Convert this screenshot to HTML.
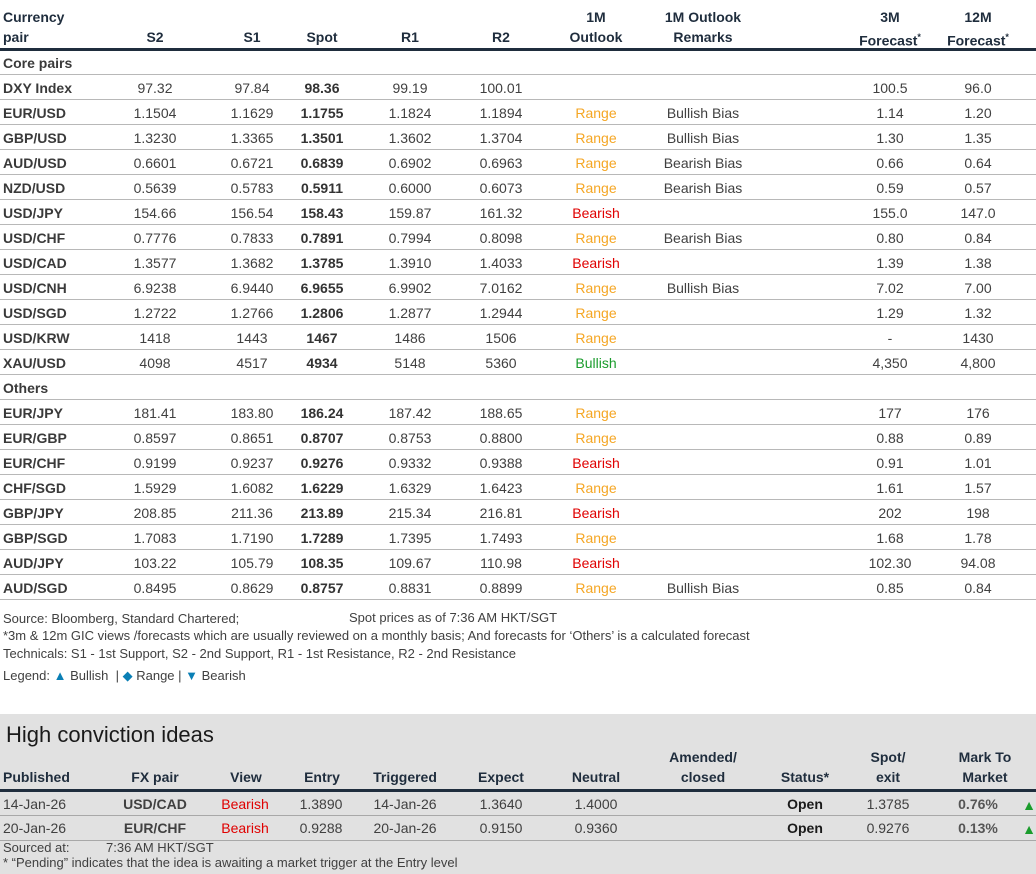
<!DOCTYPE html><html><head><meta charset="utf-8"><style>
*{margin:0;padding:0;box-sizing:border-box}
body{width:1036px;height:874px;background:#fff;font-family:"Liberation Sans",Arial,sans-serif;color:#404040;font-size:14px;position:relative;overflow:hidden}
.r{position:absolute;left:0;width:1036px;height:25px;border-bottom:1px solid #b8b8b8}
.r span{position:absolute;top:5px;width:110px;text-align:center;white-space:nowrap}
.r .p{left:3px;text-align:left;font-weight:bold;color:#3a3a3a;width:120px}
.a{left:100px}.b{left:197px}.c{left:267px;font-weight:bold;color:#333}.d{left:355px}.e{left:446px}.f{left:541px}.g{left:648px}.h{left:835px}.i{left:923px}
.R{color:#f5a623}.B{color:#e00000}.G{color:#1a9c2c}
.hd{position:absolute;font-weight:bold;color:#1f2d3d;text-align:center;line-height:20px;width:120px}
.ft{position:absolute;left:3px;font-size:13px;color:#404040;white-space:nowrap}
#hc{position:absolute;left:0;top:714px;width:1036px;height:160px;background:#e1e1e1}
.k{position:absolute;left:0;width:1036px;height:25px;border-bottom:1px solid #a8a8a8}
.k span{position:absolute;top:4px;width:110px;text-align:center;white-space:nowrap}
</style></head><body>
<div class="hd" style="left:3px;top:7px;text-align:left">Currency<br>pair</div>
<div class="hd" style="left:95px;top:27px">S2</div>
<div class="hd" style="left:192px;top:27px">S1</div>
<div class="hd" style="left:262px;top:27px">Spot</div>
<div class="hd" style="left:350px;top:27px">R1</div>
<div class="hd" style="left:441px;top:27px">R2</div>
<div class="hd" style="left:536px;top:7px">1M<br>Outlook</div>
<div class="hd" style="left:643px;top:7px">1M Outlook<br>Remarks</div>
<div class="hd" style="left:830px;top:7px">3M<br>Forecast<sup style="font-size:9px">*</sup></div>
<div class="hd" style="left:918px;top:7px">12M<br>Forecast<sup style="font-size:9px">*</sup></div>
<div style="position:absolute;left:0;top:48px;width:1036px;height:3px;background:#1f2d3d"></div>
<div class="r" style="top:51px;height:24px"><span class="p" style="top:4px">Core pairs</span></div>
<div class="r" style="top:75px"><span class="p">DXY Index</span><span class="a">97.32</span><span class="b">97.84</span><span class="c">98.36</span><span class="d">99.19</span><span class="e">100.01</span><span class="h">100.5</span><span class="i">96.0</span></div>
<div class="r" style="top:100px"><span class="p">EUR/USD</span><span class="a">1.1504</span><span class="b">1.1629</span><span class="c">1.1755</span><span class="d">1.1824</span><span class="e">1.1894</span><span class="f R">Range</span><span class="g">Bullish Bias</span><span class="h">1.14</span><span class="i">1.20</span></div>
<div class="r" style="top:125px"><span class="p">GBP/USD</span><span class="a">1.3230</span><span class="b">1.3365</span><span class="c">1.3501</span><span class="d">1.3602</span><span class="e">1.3704</span><span class="f R">Range</span><span class="g">Bullish Bias</span><span class="h">1.30</span><span class="i">1.35</span></div>
<div class="r" style="top:150px"><span class="p">AUD/USD</span><span class="a">0.6601</span><span class="b">0.6721</span><span class="c">0.6839</span><span class="d">0.6902</span><span class="e">0.6963</span><span class="f R">Range</span><span class="g">Bearish Bias</span><span class="h">0.66</span><span class="i">0.64</span></div>
<div class="r" style="top:175px"><span class="p">NZD/USD</span><span class="a">0.5639</span><span class="b">0.5783</span><span class="c">0.5911</span><span class="d">0.6000</span><span class="e">0.6073</span><span class="f R">Range</span><span class="g">Bearish Bias</span><span class="h">0.59</span><span class="i">0.57</span></div>
<div class="r" style="top:200px"><span class="p">USD/JPY</span><span class="a">154.66</span><span class="b">156.54</span><span class="c">158.43</span><span class="d">159.87</span><span class="e">161.32</span><span class="f B">Bearish</span><span class="h">155.0</span><span class="i">147.0</span></div>
<div class="r" style="top:225px"><span class="p">USD/CHF</span><span class="a">0.7776</span><span class="b">0.7833</span><span class="c">0.7891</span><span class="d">0.7994</span><span class="e">0.8098</span><span class="f R">Range</span><span class="g">Bearish Bias</span><span class="h">0.80</span><span class="i">0.84</span></div>
<div class="r" style="top:250px"><span class="p">USD/CAD</span><span class="a">1.3577</span><span class="b">1.3682</span><span class="c">1.3785</span><span class="d">1.3910</span><span class="e">1.4033</span><span class="f B">Bearish</span><span class="h">1.39</span><span class="i">1.38</span></div>
<div class="r" style="top:275px"><span class="p">USD/CNH</span><span class="a">6.9238</span><span class="b">6.9440</span><span class="c">6.9655</span><span class="d">6.9902</span><span class="e">7.0162</span><span class="f R">Range</span><span class="g">Bullish Bias</span><span class="h">7.02</span><span class="i">7.00</span></div>
<div class="r" style="top:300px"><span class="p">USD/SGD</span><span class="a">1.2722</span><span class="b">1.2766</span><span class="c">1.2806</span><span class="d">1.2877</span><span class="e">1.2944</span><span class="f R">Range</span><span class="h">1.29</span><span class="i">1.32</span></div>
<div class="r" style="top:325px"><span class="p">USD/KRW</span><span class="a">1418</span><span class="b">1443</span><span class="c">1467</span><span class="d">1486</span><span class="e">1506</span><span class="f R">Range</span><span class="h">-</span><span class="i">1430</span></div>
<div class="r" style="top:350px"><span class="p">XAU/USD</span><span class="a">4098</span><span class="b">4517</span><span class="c">4934</span><span class="d">5148</span><span class="e">5360</span><span class="f G">Bullish</span><span class="h">4,350</span><span class="i">4,800</span></div>
<div class="r" style="top:375px"><span class="p">Others</span></div>
<div class="r" style="top:400px"><span class="p">EUR/JPY</span><span class="a">181.41</span><span class="b">183.80</span><span class="c">186.24</span><span class="d">187.42</span><span class="e">188.65</span><span class="f R">Range</span><span class="h">177</span><span class="i">176</span></div>
<div class="r" style="top:425px"><span class="p">EUR/GBP</span><span class="a">0.8597</span><span class="b">0.8651</span><span class="c">0.8707</span><span class="d">0.8753</span><span class="e">0.8800</span><span class="f R">Range</span><span class="h">0.88</span><span class="i">0.89</span></div>
<div class="r" style="top:450px"><span class="p">EUR/CHF</span><span class="a">0.9199</span><span class="b">0.9237</span><span class="c">0.9276</span><span class="d">0.9332</span><span class="e">0.9388</span><span class="f B">Bearish</span><span class="h">0.91</span><span class="i">1.01</span></div>
<div class="r" style="top:475px"><span class="p">CHF/SGD</span><span class="a">1.5929</span><span class="b">1.6082</span><span class="c">1.6229</span><span class="d">1.6329</span><span class="e">1.6423</span><span class="f R">Range</span><span class="h">1.61</span><span class="i">1.57</span></div>
<div class="r" style="top:500px"><span class="p">GBP/JPY</span><span class="a">208.85</span><span class="b">211.36</span><span class="c">213.89</span><span class="d">215.34</span><span class="e">216.81</span><span class="f B">Bearish</span><span class="h">202</span><span class="i">198</span></div>
<div class="r" style="top:525px"><span class="p">GBP/SGD</span><span class="a">1.7083</span><span class="b">1.7190</span><span class="c">1.7289</span><span class="d">1.7395</span><span class="e">1.7493</span><span class="f R">Range</span><span class="h">1.68</span><span class="i">1.78</span></div>
<div class="r" style="top:550px"><span class="p">AUD/JPY</span><span class="a">103.22</span><span class="b">105.79</span><span class="c">108.35</span><span class="d">109.67</span><span class="e">110.98</span><span class="f B">Bearish</span><span class="h">102.30</span><span class="i">94.08</span></div>
<div class="r" style="top:575px"><span class="p">AUD/SGD</span><span class="a">0.8495</span><span class="b">0.8629</span><span class="c">0.8757</span><span class="d">0.8831</span><span class="e">0.8899</span><span class="f R">Range</span><span class="g">Bullish Bias</span><span class="h">0.85</span><span class="i">0.84</span></div>
<div class="ft" style="top:611px">Source: Bloomberg, Standard Chartered;</div>
<div class="ft" style="top:610px;left:349px">Spot prices as of 7:36 AM HKT/SGT</div>
<div class="ft" style="top:628px">*3m &amp; 12m GIC views /forecasts which are usually reviewed on a monthly basis; And forecasts for ‘Others’ is a calculated forecast</div>
<div class="ft" style="top:646px">Technicals: S1 - 1st Support, S2 - 2nd Support, R1 - 1st Resistance, R2 - 2nd Resistance</div>
<div class="ft" style="top:668px">Legend: <span style="color:#0a7fb5">▲</span> Bullish &nbsp;| <span style="color:#0a7fb5">◆</span> Range | <span style="color:#0a7fb5">▼</span> Bearish</div>
<div id="hc">
<div style="position:absolute;left:6px;top:8px;font-size:22px;color:#1a1a1a">High conviction ideas</div>
<div class="hd" style="left:3px;top:53px;text-align:left">Published</div>
<div class="hd" style="left:95px;top:53px">FX pair</div>
<div class="hd" style="left:186px;top:53px">View</div>
<div class="hd" style="left:262px;top:53px">Entry</div>
<div class="hd" style="left:345px;top:53px">Triggered</div>
<div class="hd" style="left:441px;top:53px">Expect</div>
<div class="hd" style="left:536px;top:53px">Neutral</div>
<div class="hd" style="left:643px;top:33px">Amended/<br>closed</div>
<div class="hd" style="left:745px;top:53px">Status*</div>
<div class="hd" style="left:828px;top:33px">Spot/<br>exit</div>
<div class="hd" style="left:925px;top:33px">Mark To<br>Market</div>
<div style="position:absolute;left:0;top:75px;width:1036px;height:3px;background:#1f2d3d"></div>
<div class="k" style="top:78px;height:24px"><span style="left:3px;text-align:left">14-Jan-26</span><span style="left:100px;font-weight:bold">USD/CAD</span><span class="B" style="left:190px">Bearish</span><span style="left:266px">1.3890</span><span style="left:350px">14-Jan-26</span><span style="left:446px">1.3640</span><span style="left:541px">1.4000</span><span style="left:750px;font-weight:bold;color:#1a1a1a">Open</span><span style="left:833px">1.3785</span><span style="left:923px;font-weight:bold;color:#555">0.76%</span><span class="G" style="left:1022px;width:14px;top:5px">▲</span></div>
<div class="k" style="top:102px"><span style="left:3px;text-align:left">20-Jan-26</span><span style="left:100px;font-weight:bold">EUR/CHF</span><span class="B" style="left:190px">Bearish</span><span style="left:266px">0.9288</span><span style="left:350px">20-Jan-26</span><span style="left:446px">0.9150</span><span style="left:541px">0.9360</span><span style="left:750px;font-weight:bold;color:#1a1a1a">Open</span><span style="left:833px">0.9276</span><span style="left:923px;font-weight:bold;color:#555">0.13%</span><span class="G" style="left:1022px;width:14px;top:5px">▲</span></div>
<div class="ft" style="top:126px">Sourced at: <span style="position:absolute;left:103px">7:36 AM HKT/SGT</span></div>
<div class="ft" style="top:141px">* “Pending” indicates that the idea is awaiting a market trigger at the Entry level</div>
</div>
</body></html>
